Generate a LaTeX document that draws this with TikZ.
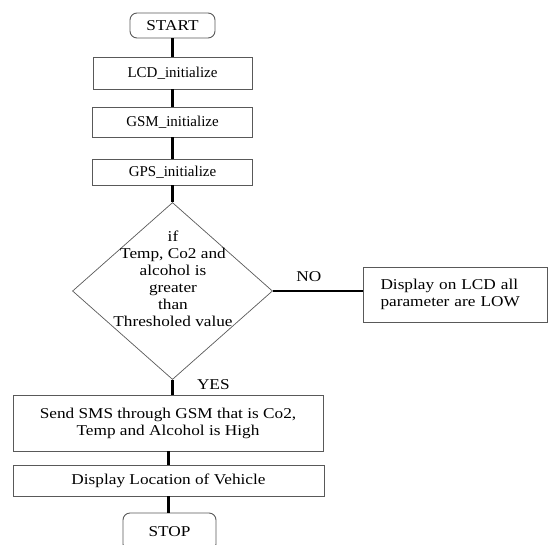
\documentclass[tikz,border=0pt]{standalone}
\usepackage{fontspec}
\setmainfont[FakeStretch=1.15]{Liberation Serif}
\newfontfamily\initfont{Liberation Serif}
\usetikzlibrary{shapes.geometric, arrows}
\usetikzlibrary{shapes,positioning}
\tikzstyle{startstop} = [rectangle, rounded corners=7pt, draw=black!65, line width=0.9pt, inner sep=0pt]
\tikzstyle{process} = [rectangle, draw=black!65, line width=0.9pt, inner sep=0pt]
\tikzstyle{decision} = [diamond, draw=black!65, line width=0.7pt, inner sep=0pt, minimum width=200pt, minimum height=177pt]
\tikzstyle{link} = [line width=2.4pt]

\begin{document}
\begin{tikzpicture}[x=1pt, y=-1pt, font=\fontsize{15}{17}\selectfont, >=stealth]
            \useasboundingbox (0,0) rectangle (549,544);
            \node[startstop, minimum width=85pt, minimum height=25pt] (start) at (172.5,25.5) {START};
            \node[process, minimum width=159pt, minimum height=32pt, font=\initfont\fontsize{15}{17}\selectfont] (lcd) at (172.5,73) {LCD\_initialize};
            \node[process, minimum width=160pt, minimum height=30pt, font=\initfont\fontsize{15}{17}\selectfont] (gsm) at (172.5,122) {GSM\_initialize};
            \node[process, minimum width=160pt, minimum height=26pt, font=\initfont\fontsize{15}{17}\selectfont] (gps) at (172.5,172) {GPS\_initialize};
            \node[decision] (dec) at (172.5,291) {};
            \node[align=center] (dectext) at (173,279) {if\\Temp, Co2 and\\alcohol is\\greater\\than\\Thresholed value};
            \node[process, text width=150pt, align=left, inner xsep=17pt, minimum height=55pt] (low) at (455.5,294.5) {Display on LCD all\\parameter are LOW};
            \node[process, minimum width=310pt, minimum height=56pt, align=center] (sms) at (168,423) {Send SMS through GSM that is Co2,\\Temp and Alcohol is High};
            \node[process, minimum width=311pt, minimum height=31pt] (disp) at (168.5,480.5) {Display Location of Vehicle};
            \node[startstop, minimum width=93pt, minimum height=38pt] (stop) at (169.5,532) {STOP};

            \draw[link] (start) -- (lcd);
            \draw[link] (lcd) -- (gsm);
            \draw[link] (gsm) -- (gps);
            \draw[link] (gps) -- (dec);
            \draw[link] (dec.east) -- (dec.east -| low.west) node[pos=0.4, above=5pt] (no) {NO};
            \draw[link] (dec.south) -- (dec.south |- sms.north) node[pos=0.3, right=20pt] (yes) {YES};
            \draw[link] (sms.south -| disp.north) -- (disp.north);
            \draw[link] (disp.south) -- (disp.south |- stop.north);
        \end{tikzpicture}
\end{document}
